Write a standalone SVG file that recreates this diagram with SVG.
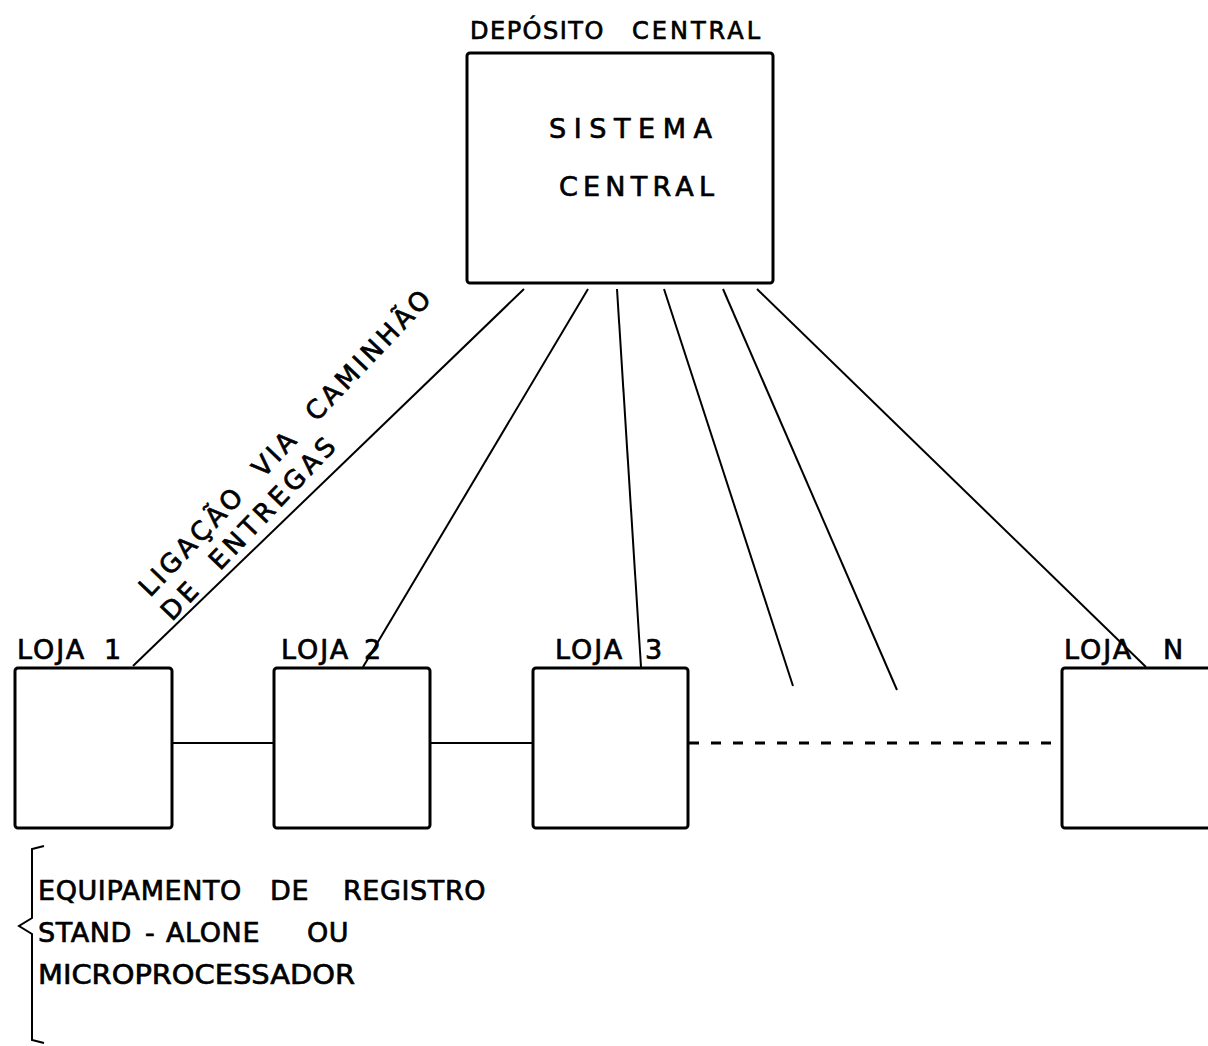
<svg xmlns="http://www.w3.org/2000/svg" width="1208" height="1046" viewBox="0 0 1208 1046">
  <style>
    .box { fill: none; stroke: #000; stroke-width: 3; }
    .link { fill: none; stroke: #000; stroke-width: 2; }
    .dash { fill: none; stroke: #000; stroke-width: 3; stroke-dasharray: 10 12; }
    .lbl { font-family: "DejaVu Sans", "Liberation Sans", sans-serif; fill: #000; stroke: #000; stroke-width: 0.7; }
    .store { font-size: 27px; letter-spacing: 2px; }
    .note { font-size: 27px; letter-spacing: 0.6px; }
  </style>
  <rect width="1208" height="1046" fill="#fff"/>

  <!-- connectors -->
  <g id="connectors">
    <line class="link" x1="524" y1="289" x2="133" y2="666"/>
    <line class="link" x1="588" y1="289" x2="363" y2="667"/>
    <line class="link" x1="617" y1="289" x2="641" y2="667"/>
    <line class="link" x1="664" y1="289" x2="793" y2="686"/>
    <line class="link" x1="723" y1="289" x2="897" y2="690"/>
    <line class="link" x1="757" y1="289" x2="1146" y2="667"/>
    <line class="link" x1="172" y1="743" x2="274" y2="743"/>
    <line class="link" x1="430" y1="743" x2="533" y2="743"/>
    <line class="dash" x1="689" y1="743" x2="1062" y2="743"/>
  </g>

  <!-- central depot -->
  <g id="central">
    <text class="lbl" y="39" font-size="24" letter-spacing="1.5"><tspan x="470">DEPÓSITO</tspan> <tspan x="632" letter-spacing="3">CENTRAL</tspan></text>
    <rect class="box" x="467" y="53" width="306" height="230" rx="3"/>
    <text class="lbl" x="549" y="138" font-size="27" textLength="163" lengthAdjust="spacing">SISTEMA</text>
    <text class="lbl" x="559" y="196" font-size="27" textLength="155" lengthAdjust="spacing">CENTRAL</text>
  </g>

  <!-- stores -->
  <g id="loja1">
    <text class="lbl store" x="17" y="659">LOJA <tspan x="104">1</tspan></text>
    <rect class="box" x="15" y="668" width="157" height="160" rx="3"/>
  </g>
  <g id="loja2">
    <text class="lbl store" x="281" y="659">LOJA <tspan x="364">2</tspan></text>
    <rect class="box" x="274" y="668" width="156" height="160" rx="3"/>
  </g>
  <g id="loja3">
    <text class="lbl store" x="555" y="659">LOJA <tspan x="645">3</tspan></text>
    <rect class="box" x="533" y="668" width="155" height="160" rx="3"/>
  </g>
  <g id="lojaN">
    <text class="lbl store" x="1064" y="659">LOJA <tspan x="1163">N</tspan></text>
    <rect class="box" x="1062" y="668" width="160" height="160" rx="3"/>
  </g>

  <!-- delivery link caption -->
  <g id="caption-link">
    <text class="lbl" font-size="26" xml:space="preserve" transform="translate(150,598) rotate(-46.5)" textLength="410" lengthAdjust="spacing">LIGAÇÃO  VIA  CAMINHÃO</text>
    <text class="lbl" font-size="26" xml:space="preserve" transform="translate(172,622) rotate(-46.5)" textLength="240" lengthAdjust="spacing">DE  ENTREGAS</text>
  </g>

  <!-- store equipment note -->
  <g id="note">
    <path class="link" d="M44,846 L32,849 L32,918 L19,926 L32,934 L32,1040 L44,1043" stroke-width="2.5"/>
    <text class="lbl note" y="900"><tspan x="38">EQUIPAMENTO</tspan> <tspan x="270">DE</tspan> <tspan x="343">REGISTRO</tspan></text>
    <text class="lbl note" y="942"><tspan x="38">STAND</tspan> <tspan x="145">-</tspan> <tspan x="166">ALONE</tspan> <tspan x="307">OU</tspan></text>
    <text class="lbl" x="38" y="984" font-size="27" textLength="317" lengthAdjust="spacingAndGlyphs">MICROPROCESSADOR</text>
  </g>
</svg>
